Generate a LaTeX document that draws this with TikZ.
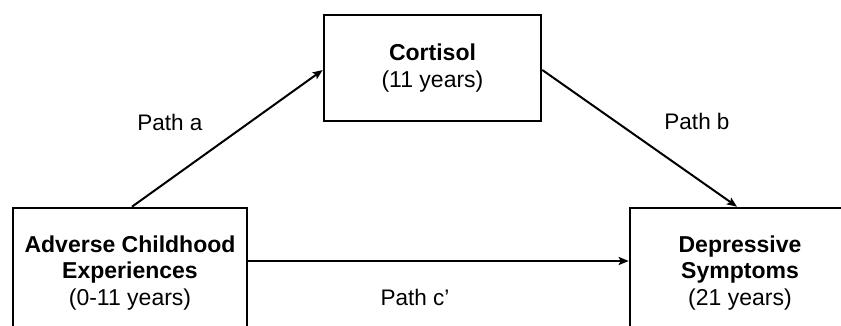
\documentclass[tikz,border=0pt]{standalone}
\usepackage{fontspec}
\setmainfont{Liberation Sans}
\usetikzlibrary{arrows.meta}
\begin{document}
\begin{tikzpicture}[x=1pt,y=-1pt,
  box/.style={draw=black,line width=2.6pt,fill=white,align=center,inner sep=0pt,
    font=\fontsize{23}{26.5}\selectfont},
  arr/.style={line width=2pt,-{Stealth[length=10pt,width=8pt,inset=2pt]}},
  lbl/.style={font=\fontsize{22.5}{26}\selectfont,inner sep=0pt}]
\clip (0,0) rectangle (841,326);
\fill[white] (0,0) rectangle (841,326);
\node[box,minimum width=234pt,minimum height=130pt] (L) at (130,273)
  {\textbf{Adverse Childhood}\\\textbf{Experiences}\\(0-11 years)};
\node[box,minimum width=220pt,minimum height=130pt] (R) at (740,273)
  {\textbf{Depressive}\\\textbf{Symptoms}\\(21 years)};
\node[box,minimum width=217pt,minimum height=106pt] (T) at (432.5,68)
  {\textbf{Cortisol}\\(11 years)};
\draw[arr] ([xshift=2pt]L.north) -- ([yshift=-2pt]T.west);
\draw[arr] ([yshift=-2pt]T.east) -- ([xshift=-3pt]R.north);
\draw[arr] ([yshift=12pt]L.east) -- ([yshift=12pt]R.west);
\node[lbl] (pa) at (170,122) {Path a};
\node[lbl] (pb) at (697,121) {Path b};
\node[lbl] (pc) at (415,297) {Path c’};
\end{tikzpicture}
\end{document}
